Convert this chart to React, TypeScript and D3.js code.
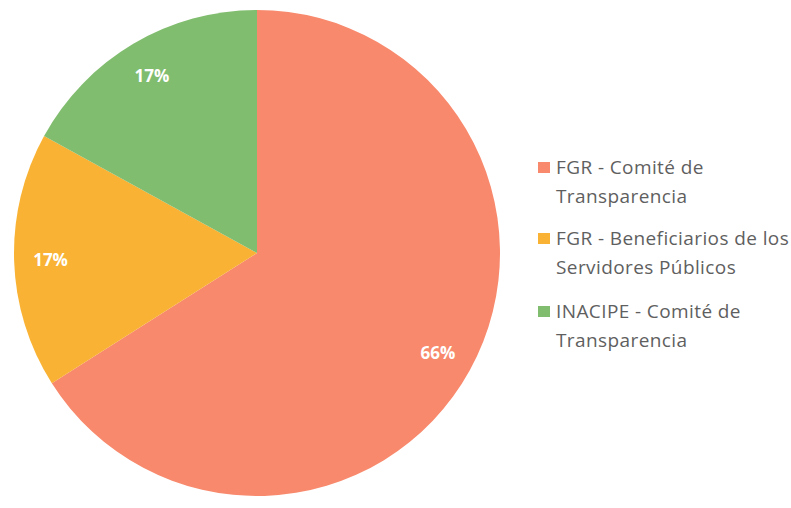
import React from "react";
import * as d3 from "d3";

const categories = [
  "FGR - Comité de Transparencia",
  "FGR - Beneficiarios de los Servidores Públicos",
  "INACIPE - Comité de Transparencia",
];
const values = [66, 17, 17];
const labels = ["66%", "17%", "17%"];
const legendLines = [
  ["FGR - Comité de", "Transparencia"],
  ["FGR - Beneficiarios de los", "Servidores Públicos"],
  ["INACIPE - Comité de", "Transparencia"],
];
const colors = ["#F8896C", "#F9B233", "#80BD6E"];

const W = 791;
const H = 508;

export default function App() {
  const cx = 257;
  const cy = 253;
  const r = 243;
  const pie = d3.pie<number>().sort(null).value((d) => d);
  const arcs = pie(values);
  const arc = d3.arc<d3.PieArcDatum<number>>().innerRadius(0).outerRadius(r);
  const labelArc = d3
    .arc<d3.PieArcDatum<number>>()
    .innerRadius(r * 0.85)
    .outerRadius(r * 0.85);

  const legendY = d3.scaleOrdinal<number, number>().domain([0, 1, 2]).range([174, 245, 318]);

  return (
    <svg
      width={W}
      height={H}
      style={{ position: "absolute", left: 0, top: 0, background: "#fff" }}
    >
      <g transform={`translate(${cx},${cy})`}>
        {arcs.map((a, i) => (
          <path key={i} d={arc(a) || ""} fill={colors[i]} />
        ))}
        {arcs.map((a, i) => {
          const [x, y] = labelArc.centroid(a);
          return (
            <text
              key={"l" + i}
              x={x}
              y={y}
              textAnchor="middle"
              dominantBaseline="central"
              fill="#fff"
              fontFamily="'Open Sans', sans-serif"
              fontWeight="bold"
              fontSize={17}
            >
              {labels[i]}
            </text>
          );
        })}
      </g>
      <g>
        {categories.map((c, i) => {
          const y = legendY(i);
          return (
            <g key={c}>
              <rect x={538} y={y - 12} width={12} height={11} fill={colors[i]} />
              {legendLines[i].map((line, j) => (
                <text
                  key={j}
                  x={556}
                  y={y + j * 29}
                  fill="#5f5f5f"
                  fontFamily="'Open Sans', sans-serif"
                  fontSize={19}
                  letterSpacing={0.4}
                >
                  {line}
                </text>
              ))}
            </g>
          );
        })}
      </g>
    </svg>
  );
}
